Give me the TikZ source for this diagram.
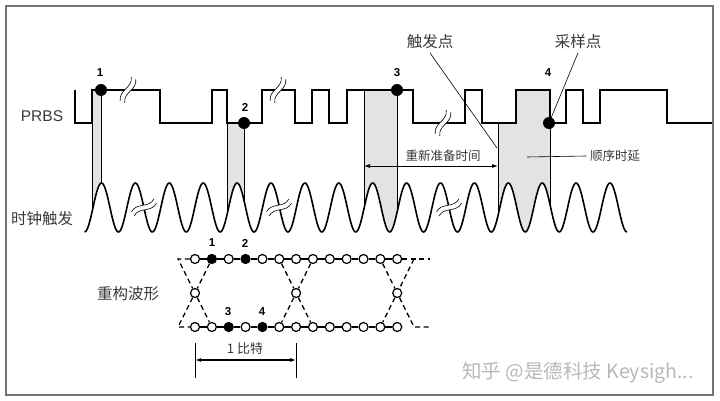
\documentclass[tikz,border=0pt]{standalone}
\usepackage{fontspec}
\setmainfont{Noto Sans CJK SC}
\newfontfamily\latinfont{Liberation Sans}
\usepackage{tikz}
\usetikzlibrary{arrows.meta}

% break mark across a trace: x, y, angle
\newcommand{\cutmark}[3]{%
  \begin{scope}[shift={(#1,#2)}, rotate=#3]
    \fill[white] (-2.5,-13) .. controls (3.5,-4) and (-8.5,4) .. (-2.5,13)
      -- (2.5,13) .. controls (-3.5,4) and (8.5,-4) .. (2.5,-13) -- cycle;
    \draw[line width=0.6pt] (-2.5,-13) .. controls (3.5,-4) and (-8.5,4) .. (-2.5,13);
    \draw[line width=0.6pt] (2.5,-13) .. controls (8.5,-4) and (-3.5,4) .. (2.5,13);
  \end{scope}}

\begin{document}
\begin{tikzpicture}[
    x=1pt, y=-1pt, % one unit per pixel, y pointing down
    thick, % Line thickness for the traces
    >={Latex[length=6pt, width=4pt]}, % Arrow tip style
    declare function={clk(\t)=207.5-24.5*cos(10.6195*(\t-101.5));},
    trace/.style={line width=1.6pt, line join=miter},
    holdfill/.style={fill=black!11},
    edgeline/.style={line width=0.6pt},
    dot/.style={circle, fill=black, inner sep=0pt, minimum size=12pt},
    sample/.style={circle, draw, line width=1.2pt, fill=white, inner sep=0pt, minimum size=9pt},
    hit/.style={sample, fill=black},
    num/.style={font=\latinfont\bfseries\fontsize{11.5}{12}\selectfont},
    bigtext/.style={font=\fontsize{15.5}{16}\selectfont, text=black!78},
    smalltext/.style={font=\fontsize{12.5}{13}\selectfont, text=black!78},
    eyedash/.style={line width=1.3pt, dash pattern=on 5pt off 3.5pt}
]
\useasboundingbox (0,0) rectangle (720,401);

% Frame
\draw[black!55, line width=1.8pt] (6,6) rectangle (713,395);

% Shaded hold regions
\fill[holdfill] (92,90) -- (101,90) -- plot[domain=101:92, samples=20] (\x,{clk(\x)}) -- cycle;
\fill[holdfill] (227,123) -- (244,123) -- plot[domain=244:227, samples=20] (\x,{clk(\x)}) -- cycle;
\fill[holdfill] (364,90) -- (397,90) -- plot[domain=397:364, samples=30] (\x,{clk(\x)}) -- cycle;
\fill[holdfill] (498,123) -- (516,123) -- (516,90) -- (550,90)
  -- plot[domain=550:498, samples=40] (\x,{clk(\x)}) -- cycle;
\foreach \xa/\ya in {92/90, 101/90, 227/123, 244/123, 364/90, 397/90, 498/123, 550/123}
  \draw[edgeline] (\xa,\ya) -- (\xa,{clk(\xa)});

% PRBS trace
\draw[trace] (75,90) -- (75,123) -- (92,123) -- (92,90) -- (160,90) -- (160,123)
  -- (212,123) -- (212,90) -- (227,90) -- (227,123) -- (262,123) -- (262,90)
  -- (295,90) -- (295,123) -- (312,123) -- (312,90) -- (329,90) -- (329,123)
  -- (347,123) -- (347,90) -- (413,90) -- (413,123) -- (465,123) -- (465,90)
  -- (482,90) -- (482,123) -- (516,123) -- (516,90) -- (550,90) -- (550,123)
  -- (566,123) -- (566,90) -- (583,90) -- (583,123) -- (600,123) -- (600,90)
  -- (667,90) -- (667,123) -- (712,123);

% Clock trace
\draw[trace] plot[domain=84.55:627, samples=500, smooth] (\x,{clk(\x)});

% Breaks
\cutmark{128}{90}{-25}
\cutmark{278}{90}{-25}
\cutmark{443}{123}{-25}
\cutmark{144}{207.5}{-60}
\cutmark{279}{207.5}{-60}
\cutmark{449}{207.5}{-60}

% Sampled points
\node[dot] (p1) at (101,90) {};
\node[dot] (p2) at (244,123) {};
\node[dot] (p3) at (397,90) {};
\node[dot] (p4) at (549,123) {};
\node[num] (n1) at (100,73) {1};
\node[num] (n2) at (245,107) {2};
\node[num] (n3) at (397,73) {3};
\node[num] (n4) at (548,73) {4};

% Labels
\node[bigtext, font=\latinfont\fontsize{15.5}{16}\selectfont] (prbs) at (42,116) {PRBS};
\node[bigtext] (clock) at (42,219) {时钟触发};
\node[bigtext] (eye) at (128,294) {重构波形};
\node[bigtext] (trig) at (430,42) {触发点};
\node[bigtext] (samp) at (578,42) {采样点};
\node[smalltext] (rearm) at (443,156) {重新准备时间};
\node[smalltext] (delay) at (615,156) {顺序时延};

% Callouts
\coordinate (trigend) at (497,148);
\draw[edgeline] (trig.south) -- (trigend);
\draw[edgeline] (samp.south) -- (p4.center);
\coordinate (delaystart) at (527,157);
\draw[edgeline] (delaystart) -- (delay.west);
\coordinate (rearmA) at (364,166);
\coordinate (rearmB) at (498,166);
\draw[<->, line width=0.8pt] (rearmA) -- (rearmB);

% Reconstructed waveform
\foreach \i/\ts/\bs in {0/sample/sample, 1/hit/sample, 2/sample/hit, 3/hit/sample, 4/sample/hit} {
  \node[\ts] (t\i) at ({195+16.85*\i},259) {};
  \node[\bs] (b\i) at ({195+16.85*\i},327) {};
}
\foreach \i in {5,...,12} {
  \node[sample] (t\i) at ({195+16.85*\i},259) {};
  \node[sample] (b\i) at ({195+16.85*\i},327) {};
}
\foreach \i [count=\j] in {0,...,11} {
  \draw[line width=1.2pt] (t\i) -- (t\j);
  \draw[line width=1.2pt] (b\i) -- (b\j);
}
\node[sample] (m0) at (195,293) {};
\node[sample] (m1) at (296.1,293) {};
\node[sample] (m2) at (397.2,293) {};

\coordinate (el1) at (178,259);
\coordinate (el2) at (178,327);
\coordinate (er1) at (414,259);
\coordinate (er2) at (414,327);
\coordinate (ee1) at (430,259);
\coordinate (ee2) at (430,327);

\draw[eyedash] (t0) -- (el1) -- (m0);
\draw[eyedash] (m0) -- (b1);
\draw[eyedash] (t1) -- (m0);
\draw[eyedash] (m0) -- (el2) -- (b0);
\draw[eyedash] (t5) -- (m1);
\draw[eyedash] (m1) -- (b7);
\draw[eyedash] (t7) -- (m1);
\draw[eyedash] (m1) -- (b5);
\draw[eyedash] (t11) -- (m2);
\draw[eyedash] (m2) -- (er2) -- (ee2);
\draw[eyedash] (t12) -- (ee1);
\draw[eyedash] (er1) -- (m2);
\draw[eyedash] (m2) -- (b11);

\node[num] (e1) at (212,243) {1};
\node[num] (e2) at (245,243) {2};
\node[num] (e3) at (228,312) {3};
\node[num] (e4) at (262,312) {4};

% One bit span
\coordinate (bitL1) at (195,343);
\coordinate (bitL2) at (195,378);
\coordinate (bitR1) at (296.1,343);
\coordinate (bitR2) at (296.1,378);
\draw[edgeline] (bitL1) -- (bitL2);
\draw[edgeline] (bitR1) -- (bitR2);
\coordinate (bitA) at (195,360);
\coordinate (bitB) at (296.1,360);
\draw[<->, line width=1.3pt] (bitA) -- (bitB);
\node[smalltext, font=\fontsize{13}{14}\selectfont] (bit) at (245,349) {1 比特};

% Watermark
\node[font=\fontsize{19.5}{20}\selectfont, text=black!28] (mark) at (578,373) {知乎 @是德科技 Keysigh...};

\end{tikzpicture}
\end{document}
